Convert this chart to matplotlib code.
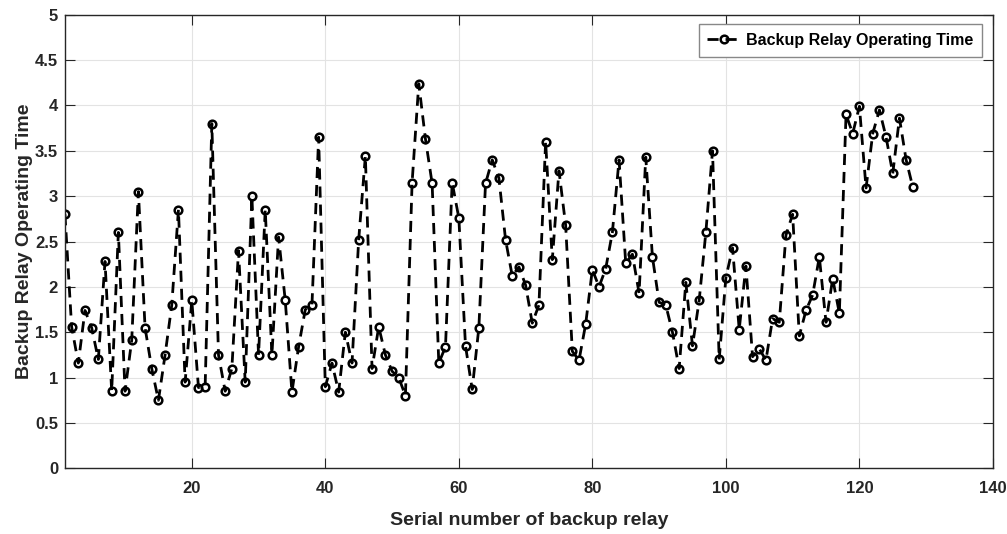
import numpy as np
import matplotlib.pyplot as plt

plt.rcParams['font.family'] = ['Liberation Sans', 'DejaVu Sans']

# backup relay operating times, relays 1..128
relay_no = np.arange(1, 129)
op_time = [
    2.80, 1.56, 1.16, 1.74, 1.55, 1.20, 2.28, 0.85, 2.60, 0.85,
    1.41, 3.05, 1.55, 1.10, 0.75, 1.25, 1.80, 2.85, 0.95, 1.85,
    0.89, 0.90, 3.80, 1.25, 0.85, 1.10, 2.40, 0.95, 3.00, 1.25,
    2.85, 1.25, 2.55, 1.85, 0.84, 1.34, 1.75, 1.80, 3.65, 0.90,
    1.16, 0.84, 1.50, 1.16, 2.52, 3.44, 1.10, 1.56, 1.25, 1.07,
    1.00, 0.80, 3.15, 4.24, 3.63, 3.14, 1.16, 1.34, 3.15, 2.76,
    1.35, 0.87, 1.55, 3.14, 3.40, 3.20, 2.52, 2.12, 2.22, 2.02,
    1.60, 1.80, 3.60, 2.30, 3.28, 2.68, 1.29, 1.19, 1.59, 2.19,
    2.00, 2.20, 2.60, 3.40, 2.26, 2.36, 1.93, 3.43, 2.33, 1.83,
    1.80, 1.50, 1.10, 2.05, 1.35, 1.85, 2.60, 3.50, 1.20, 2.10,
    2.43, 1.53, 2.23, 1.23, 1.32, 1.19, 1.65, 1.61, 2.57, 2.80,
    1.46, 1.74, 1.91, 2.33, 1.61, 2.09, 1.71, 3.90, 3.69, 3.99,
    3.09, 3.69, 3.95, 3.65, 3.25, 3.86, 3.40, 3.10,
]
xticks = [20, 40, 60, 80, 100, 120, 140]
yticks = np.arange(0, 5.01, 0.5)

fig = plt.figure(figsize=(10.07, 5.34), dpi=100)
ax = fig.add_axes([0.0645, 0.123, 0.9215, 0.8495])

ax.plot(relay_no, op_time, linestyle='--', color='black', linewidth=2,
        dashes=(4, 2.5), marker='o', markersize=5.5, markerfacecolor='none',
        markeredgewidth=1.8, markeredgecolor='black',
        label='Backup Relay Operating Time')

ax.set_xlim(1, 140)
ax.set_ylim(0, 5)
ax.set_xticks(xticks)
ax.set_yticks(yticks)
ax.set_yticklabels(['0', '0.5', '1', '1.5', '2', '2.5', '3', '3.5', '4', '4.5', '5'])
ax.grid(True, color='#e3e3e3', linewidth=0.8)
ax.set_axisbelow(True)

ax.tick_params(direction='in', length=7, width=0.8, top=True, right=True,
               colors='#262626', labelsize=12)
ax.tick_params(axis='x', pad=9)
ax.tick_params(axis='y', pad=5)
for lab in ax.get_xticklabels() + ax.get_yticklabels():
    lab.set_fontweight('bold')
for sp in ax.spines.values():
    sp.set_color('#262626')
    sp.set_linewidth(1.0)

ax.set_xlabel('Serial number of backup relay', fontsize=14, fontweight='bold',
              color='#262626', labelpad=12)
ax.set_ylabel('Backup Relay Operating Time', fontsize=14, fontweight='bold',
              color='#262626', labelpad=1)

leg = ax.legend(loc='upper right', bbox_to_anchor=(0.988, 0.9795),
                prop={'weight': 'bold', 'size': 11.5}, fancybox=False,
                handlelength=2.1, handletextpad=0.3,
                borderpad=0.55, borderaxespad=0, framealpha=1)
leg.get_frame().set_edgecolor('#888888')
leg.get_frame().set_linewidth(1.0)

fig.savefig('out.png', dpi=100)
